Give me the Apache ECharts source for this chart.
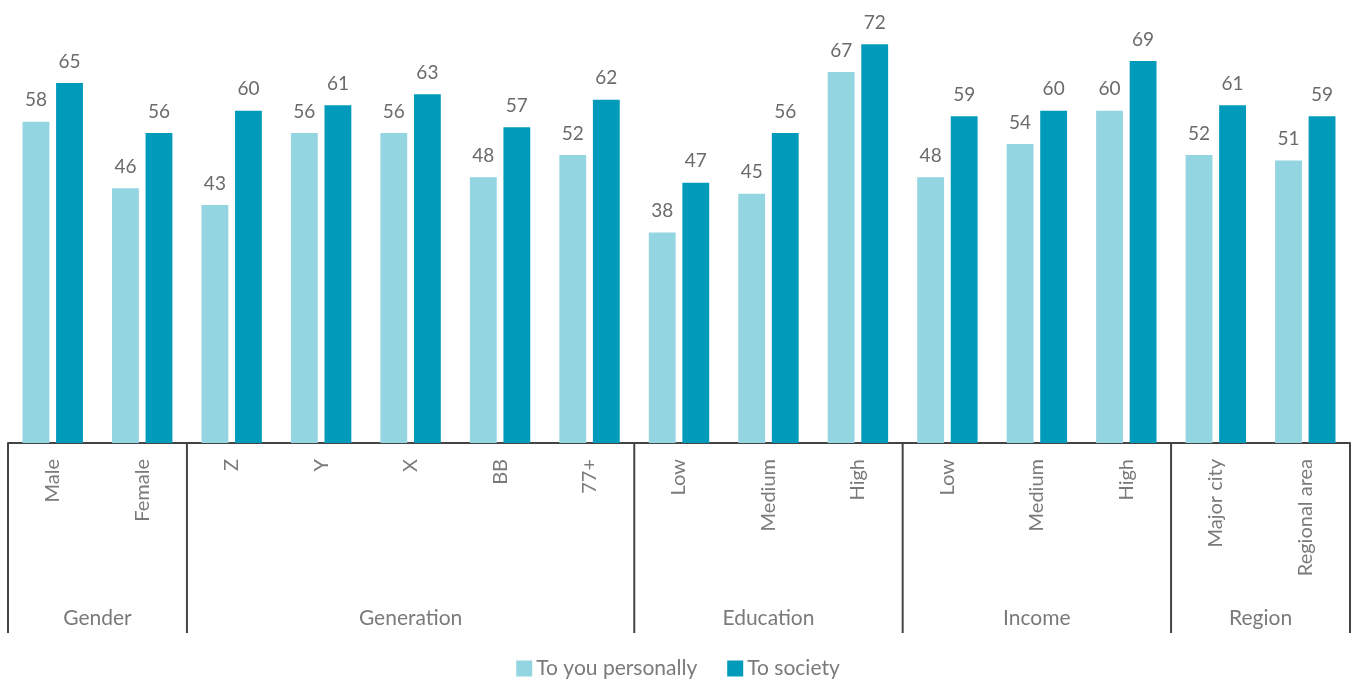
<!DOCTYPE html>
<html><head><meta charset="utf-8">
<script src="https://cdn.jsdelivr.net/npm/echarts@6/dist/echarts.min.js"></script>
<style>html,body{margin:0;padding:0;background:#fff}#c{width:1356px;height:684px}</style>
</head><body><div id="c"></div>
<script>
const categories = ['Male','Female','Z','Y','X','BB','77+','Low','Medium','High','Low','Medium','High','Major city','Regional area'];
const personal = [58,46,43,56,56,48,52,38,45,67,48,54,60,52,51];
const society = [65,56,60,61,63,57,62,47,56,72,59,60,69,61,59];
const groups = [['Gender',2],['Generation',5],['Education',3],['Income',3],['Region',2]];
const seriesNames = ['To you personally','To society'];

const FONT = 'Lato, "Noto Sans", sans-serif';
const chart = echarts.init(document.getElementById('c'));
const labelStyle = {show:true, position:'top', distance:12, color:'#6b6b6b', fontSize:19, fontFamily:FONT};
chart.setOption({
  animation:false,
  grid:{left:8, right:6, top:0, bottom:241, containLabel:false},
  legend:{bottom:0, left:'center', itemWidth:16, itemHeight:16, itemGap:30,
    icon:'rect', textStyle:{fontSize:21, color:'#7a7a7a', fontFamily:FONT, padding:[0,0,0,-1]}, data:seriesNames},
  xAxis:{type:'category', data:categories,
    axisLine:{lineStyle:{color:'#444', width:2}}, axisTick:{show:false},
    axisLabel:{rotate:90, margin:16, interval:0, fontSize:20, color:'#7a7a7a', fontFamily:FONT}},
  yAxis:{type:'value', min:0, max:80, show:false, splitLine:{show:false}},
  series:[
    {name:seriesNames[0], type:'bar', data:personal, barWidth:'30%', barGap:'25%',
     itemStyle:{color:'#93d5e1'}, label:labelStyle},
    {name:seriesNames[1], type:'bar', data:society, barWidth:'30%', barGap:'25%',
     itemStyle:{color:'#009bbb'}, label:labelStyle}
  ]
});

function drawGroups(){
  const x0 = chart.convertToPixel({xAxisIndex:0}, 0);
  const x1 = chart.convertToPixel({xAxisIndex:0}, 1);
  const band = x1 - x0;
  const yBase = chart.convertToPixel({yAxisIndex:0}, 0);
  const els = [];
  let idx = 0;
  const bound = i => x0 - band/2 + i*band;
  els.push({type:'line', shape:{x1:bound(0), y1:yBase, x2:bound(0), y2:yBase+190}, style:{stroke:'#444', lineWidth:2}});
  groups.forEach(([name,n])=>{
    const a = bound(idx), b = bound(idx+n);
    els.push({type:'line', shape:{x1:b, y1:yBase, x2:b, y2:yBase+190}, style:{stroke:'#444', lineWidth:2}});
    els.push({type:'text', x:(a+b)/2, y:yBase+175, style:{text:name, fill:'#7a7a7a', fontSize:21, fontFamily:FONT, align:'center', verticalAlign:'middle'}});
    idx += n;
  });
  chart.setOption({graphic:els});
}
drawGroups();
</script></body></html>
